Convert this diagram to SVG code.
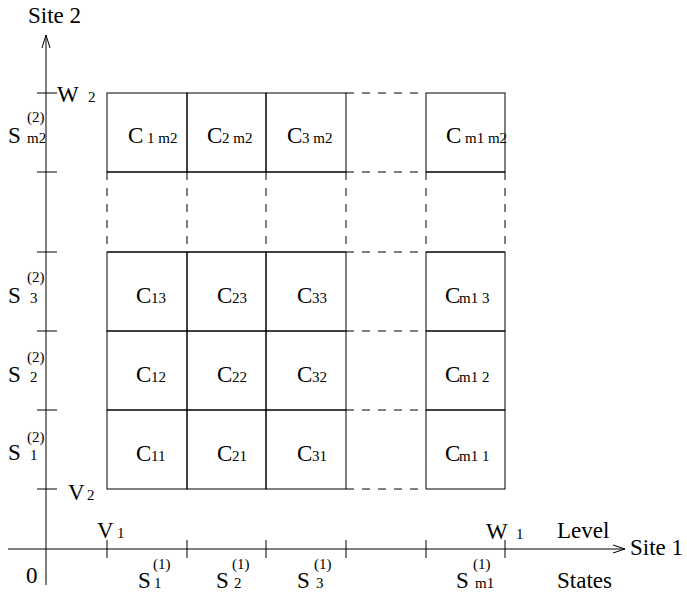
<svg xmlns="http://www.w3.org/2000/svg" width="687" height="595" viewBox="0 0 687 595">
<style>
.ln{stroke:#000;stroke-width:1;fill:none}
.ds{stroke:#000;stroke-width:1;fill:none;stroke-dasharray:8 8}
.cell{stroke:#000;stroke-width:1;fill:none}
text{font-family:"Liberation Serif","Times New Roman",serif;fill:#000}
.b{font-size:23px}
.s{font-size:15px}
</style>
<rect width="687" height="595" fill="#fff"/>
<g id="axes">
<line class="ln" x1="46" y1="35" x2="46" y2="585"/>
<polyline class="ln" points="42,48 46,35 50,48"/>
<line class="ln" x1="8" y1="549" x2="625" y2="549"/>
<polyline class="ln" points="613,545 625,549 613,553"/>
<g class="ln">
<line x1="37" y1="93" x2="57" y2="93"/>
<line x1="37" y1="172" x2="57" y2="172"/>
<line x1="37" y1="252" x2="57" y2="252"/>
<line x1="37" y1="331" x2="57" y2="331"/>
<line x1="37" y1="410" x2="57" y2="410"/>
<line x1="37" y1="489" x2="57" y2="489"/>
<line x1="107" y1="540" x2="107" y2="558"/>
<line x1="187" y1="540" x2="187" y2="558"/>
<line x1="266" y1="540" x2="266" y2="558"/>
<line x1="346" y1="540" x2="346" y2="558"/>
<line x1="426" y1="540" x2="426" y2="558"/>
<line x1="505" y1="540" x2="505" y2="558"/>
</g>
<text class="b" x="28" y="23">Site 2</text>
<text class="b" x="630" y="555">Site 1</text>
<text class="b" x="26" y="583">0</text>
<text class="b" x="557" y="538">Level</text>
<text class="b" x="557" y="588">States</text>
<text class="b" x="57" y="102">W</text><text class="s" x="88" y="102">2</text>
<text class="b" x="68" y="500">V</text><text class="s" x="87" y="500">2</text>
<text class="b" x="97" y="538">V</text><text class="s" x="117" y="538">1</text>
<text class="b" x="486" y="539">W</text><text class="s" x="516" y="539">1</text>
<text class="b" x="8" y="143">S</text><text class="s" x="27" y="122">(2)</text><text class="s" x="27" y="143">m2</text>
<text class="b" x="8" y="303">S</text><text class="s" x="27" y="282">(2)</text><text class="s" x="30" y="303">3</text>
<text class="b" x="8" y="382">S</text><text class="s" x="27" y="362">(2)</text><text class="s" x="30" y="382">2</text>
<text class="b" x="8" y="460">S</text><text class="s" x="27" y="442">(2)</text><text class="s" x="30" y="460">1</text>
<text class="b" x="138" y="588">S</text><text class="s" x="153" y="569">(1)</text><text class="s" x="154" y="588">1</text>
<text class="b" x="216" y="588">S</text><text class="s" x="232" y="569">(1)</text><text class="s" x="234" y="588">2</text>
<text class="b" x="297" y="588">S</text><text class="s" x="314" y="569">(1)</text><text class="s" x="316" y="588">3</text>
<text class="b" x="456" y="588">S</text><text class="s" x="473" y="569">(1)</text><text class="s" x="475" y="588">m1</text>
</g>
<g id="connectors">
<g class="ln">
<line x1="107" y1="172" x2="346" y2="172"/>
<line x1="426" y1="172" x2="505" y2="172"/>
<line x1="107" y1="252" x2="346" y2="252"/>
<line x1="426" y1="252" x2="505" y2="252"/>
</g>
<g class="ds">
<line x1="346" y1="93" x2="426" y2="93"/>
<line x1="346" y1="172" x2="426" y2="172"/>
<line x1="346" y1="252" x2="426" y2="252"/>
<line x1="346" y1="331" x2="426" y2="331"/>
<line x1="346" y1="410" x2="426" y2="410"/>
<line x1="346" y1="489" x2="426" y2="489"/>
<line x1="107" y1="172" x2="107" y2="252"/>
<line x1="187" y1="172" x2="187" y2="252"/>
<line x1="266" y1="172" x2="266" y2="252"/>
<line x1="346" y1="172" x2="346" y2="252"/>
<line x1="426" y1="172" x2="426" y2="252"/>
<line x1="505" y1="172" x2="505" y2="252"/>
</g>
</g>
<g id="c1m2"><rect class="cell" x="107" y="93" width="80" height="79"/><text class="b" x="128" y="143">C</text><text class="s" x="147" y="143">1 m2</text></g>
<g id="c2m2"><rect class="cell" x="187" y="93" width="79" height="79"/><text class="b" x="207" y="143">C</text><text class="s" x="222" y="143">2 m2</text></g>
<g id="c3m2"><rect class="cell" x="266" y="93" width="80" height="79"/><text class="b" x="287" y="143">C</text><text class="s" x="302" y="143">3 m2</text></g>
<g id="cm1m2"><rect class="cell" x="426" y="93" width="79" height="79"/><text class="b" x="446" y="143">C</text><text class="s" x="465" y="143">m1 m2</text></g>
<g id="c13"><rect class="cell" x="107" y="252" width="80" height="79"/><text class="b" x="136" y="303">C</text><text class="s" x="151" y="303">13</text></g>
<g id="c23"><rect class="cell" x="187" y="252" width="79" height="79"/><text class="b" x="217" y="303">C</text><text class="s" x="232" y="303">23</text></g>
<g id="c33"><rect class="cell" x="266" y="252" width="80" height="79"/><text class="b" x="297" y="303">C</text><text class="s" x="312" y="303">33</text></g>
<g id="cm13"><rect class="cell" x="426" y="252" width="79" height="79"/><text class="b" x="445" y="303">C</text><text class="s" x="459" y="303">m1 3</text></g>
<g id="c12"><rect class="cell" x="107" y="331" width="80" height="79"/><text class="b" x="136" y="382">C</text><text class="s" x="151" y="382">12</text></g>
<g id="c22"><rect class="cell" x="187" y="331" width="79" height="79"/><text class="b" x="217" y="382">C</text><text class="s" x="232" y="382">22</text></g>
<g id="c32"><rect class="cell" x="266" y="331" width="80" height="79"/><text class="b" x="297" y="382">C</text><text class="s" x="312" y="382">32</text></g>
<g id="cm12"><rect class="cell" x="426" y="331" width="79" height="79"/><text class="b" x="445" y="382">C</text><text class="s" x="459" y="382">m1 2</text></g>
<g id="c11"><rect class="cell" x="107" y="410" width="80" height="79"/><text class="b" x="136" y="461">C</text><text class="s" x="151" y="461">11</text></g>
<g id="c21"><rect class="cell" x="187" y="410" width="79" height="79"/><text class="b" x="217" y="461">C</text><text class="s" x="232" y="461">21</text></g>
<g id="c31"><rect class="cell" x="266" y="410" width="80" height="79"/><text class="b" x="297" y="461">C</text><text class="s" x="312" y="461">31</text></g>
<g id="cm11"><rect class="cell" x="426" y="410" width="79" height="79"/><text class="b" x="445" y="461">C</text><text class="s" x="459" y="461">m1 1</text></g>
</svg>
